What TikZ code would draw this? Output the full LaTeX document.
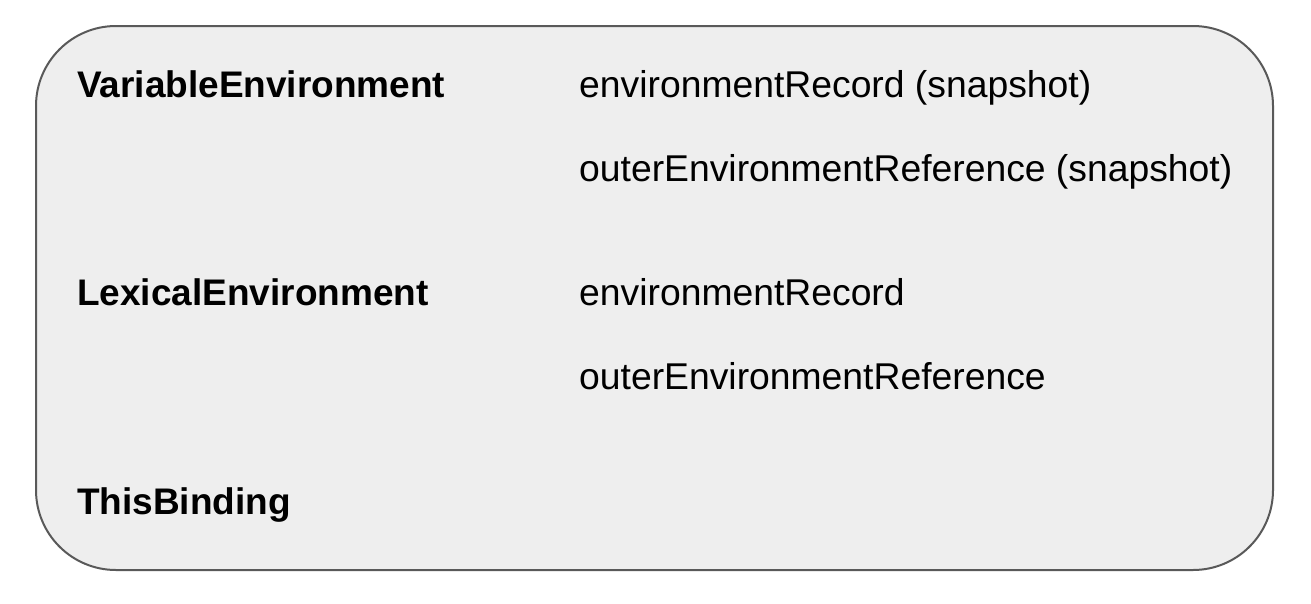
\documentclass[tikz,border=0pt]{standalone}
\usepackage{fontspec}
\setmainfont{Liberation Sans}
\definecolor{boxfill}{HTML}{EEEEEE}
\definecolor{boxline}{HTML}{595959}
\begin{document}
\begin{tikzpicture}[x=1pt,y=-1pt,
  lbl/.style={anchor=base west,inner sep=0pt,font=\fontsize{37.3}{44}\selectfont},
  hdr/.style={anchor=base west,inner sep=0pt,font=\fontsize{37}{44}\selectfont\bfseries}]
\useasboundingbox (0,0) rectangle (1311,603);
\draw[boxline,fill=boxfill,line width=2,rounded corners=80] (36,26) rectangle (1273,570);
\node[hdr] (ve) at (77,97) {VariableEnvironment};
\node[lbl] (ver) at (579,97) {environmentRecord (snapshot)};
\node[lbl] (veo) at (579,181) {outerEnvironmentReference (snapshot)};
\node[hdr] (le) at (77,305) {LexicalEnvironment};
\node[lbl] (ler) at (579,305) {environmentRecord};
\node[lbl] (leo) at (579,389) {outerEnvironmentReference};
\node[hdr] (tb) at (77,514) {ThisBinding};
\end{tikzpicture}
\end{document}
